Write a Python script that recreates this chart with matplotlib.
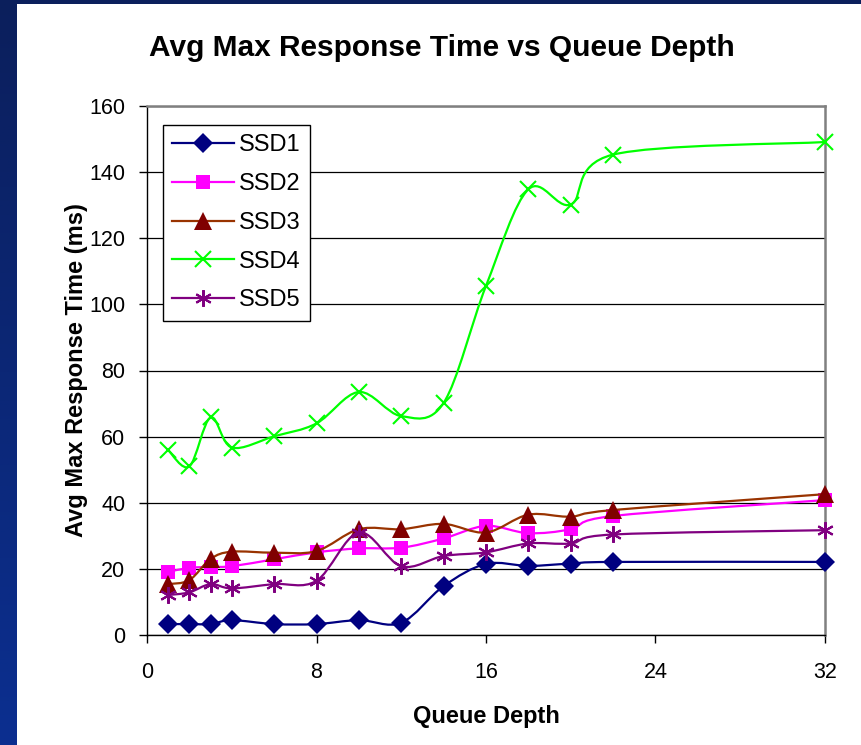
import numpy as np
import matplotlib
matplotlib.use('Agg')
from matplotlib import pyplot as plt
from matplotlib.path import Path
from matplotlib.patches import PathPatch, Rectangle
from matplotlib.lines import Line2D

plt.rcParams['font.family'] = ['Liberation Sans', 'DejaVu Sans']

# queue depth values
depth = [1, 2, 3, 4, 6, 8, 10, 12, 14, 16, 18, 20, 22, 32]

ssd1 = [3.3, 3.3, 3.3, 4.5, 3.3, 3.3, 4.5, 3.7, 14.8, 21.5, 20.9, 21.6, 22.1, 22.1]
ssd2 = [19.1, 20.3, 20.6, 20.8, 22.9, 25.0, 26.2, 26.4, 29.2, 33.0, 30.8, 32.0, 36.0, 40.8]
ssd3 = [15.4, 16.6, 23.0, 25.2, 24.9, 25.4, 32.0, 32.0, 33.6, 31.0, 36.4, 35.8, 37.8, 42.6]
ssd4 = [55.9, 51.0, 65.8, 56.7, 60.1, 64.0, 73.5, 66.2, 70.2, 105.6, 134.8, 130.2, 145.3, 149.1]
ssd5 = [12.1, 12.9, 15.4, 14.1, 15.4, 16.4, 31.0, 20.8, 23.9, 25.0, 27.7, 27.7, 30.4, 31.7]

names = ['SSD1', 'SSD2', 'SSD3', 'SSD4', 'SSD5']


def smooth_path(x, y):
    # excel style smoothed line: bezier segments through every point
    pts = np.column_stack([x, y]).astype(float)
    n = len(pts)
    verts = [pts[0]]
    codes = [Path.MOVETO]
    for i in range(n - 1):
        p0 = pts[i - 1] if i > 0 else pts[i]
        p1 = pts[i]
        p2 = pts[i + 1]
        p3 = pts[i + 2] if i + 2 < n else pts[i + 1]
        c1 = p1 + (p2 - p0) / 6.0
        c2 = p2 - (p3 - p1) / 6.0
        verts += [c1, c2, p2]
        codes += [Path.CURVE4] * 3
    return Path(verts, codes)


fig = plt.figure(figsize=(8.62, 7.45), dpi=100)
fig.patch.set_facecolor('white')

# slide background strips
grad = fig.add_axes([0, 0, 17 / 862, 1])
grad.imshow(np.linspace(0, 1, 256).reshape(-1, 1), aspect='auto',
            cmap=matplotlib.colors.LinearSegmentedColormap.from_list('bg', ['#0b1f5c', '#0b2f90']))
grad.axis('off')
fig.patches.append(Rectangle((0, 1 - 4 / 745), 1, 4 / 745, transform=fig.transFigure,
                             facecolor='#0b1f5c', edgecolor='none'))

ax = fig.add_axes([147 / 862, 1 - 635 / 745, 678 / 862, 529 / 745])

styles = [
    dict(line='#000080', marker='D', mfc='#000080', ms=10, mew=0),
    dict(line='#ff00ff', marker='s', mfc='#ff00ff', ms=10.5, mew=0),
    dict(line='#993300', marker='^', mfc='#800000', ms=13, mew=0),
    dict(line='#00ff00', marker='x', mfc='#00ff00', ms=11.5, mew=1.5),
    dict(line='#800080', marker=(6, 2, 0), mfc='#800080', ms=12, mew=1.5),
]

handles = []
for i, (vals, st) in enumerate(zip([ssd1, ssd2, ssd3, ssd4, ssd5], styles)):
    patch = PathPatch(smooth_path(depth, vals), facecolor='none', edgecolor=st['line'],
                      lw=1.6, zorder=3 + i * 0.1)
    ax.add_patch(patch)
    ax.plot(depth, vals, linestyle='none', marker=st['marker'], ms=st['ms'],
            markerfacecolor=st['mfc'], markeredgecolor=st['mfc'], markeredgewidth=st['mew'],
            zorder=3.05 + i * 0.1, clip_on=False)
    handles.append(Line2D([], [], color=st['line'], lw=1.6, marker=st['marker'], ms=st['ms'],
                          markerfacecolor=st['mfc'], markeredgecolor=st['mfc'],
                          markeredgewidth=st['mew']))

ax.set_xlim(0, 32)
ax.set_ylim(0, 160)
ax.set_xticks([0, 8, 16, 24, 32])
ax.set_yticks(range(0, 161, 20))
ax.yaxis.grid(True, color='black', lw=0.9)
ax.set_axisbelow(True)

for s in ['top', 'right']:
    ax.spines[s].set_color('#808080')
    ax.spines[s].set_linewidth(1.8)
for s in ['left', 'bottom']:
    ax.spines[s].set_color('black')
    ax.spines[s].set_linewidth(1.0)

ax.tick_params(axis='both', direction='out', length=5.5, width=1.0, labelsize=15.5, colors='black')
ax.tick_params(axis='y', pad=10)
ax.tick_params(axis='x', pad=14)

ax.set_xlabel('Queue Depth', fontsize=17, fontweight='bold', labelpad=16)
ax.set_ylabel('Avg Max Response Time (ms)', fontsize=17, fontweight='bold', labelpad=1)

fig.text(442 / 862, 1 - 48 / 745, 'Avg Max Response Time vs Queue Depth', fontsize=21.5,
         fontweight='bold', ha='center', va='center')

leg = ax.legend(handles, names, loc='upper left', bbox_to_anchor=(16 / 678, 1 - 19 / 529),
                borderaxespad=0, fontsize=17, handlelength=2.6, handletextpad=0.2,
                labelspacing=0.71, borderpad=0.4, fancybox=False, framealpha=1,
                edgecolor='black')
leg.get_frame().set_linewidth(1.0)
leg.set_zorder(10)

fig.savefig('out.png', dpi=100)
